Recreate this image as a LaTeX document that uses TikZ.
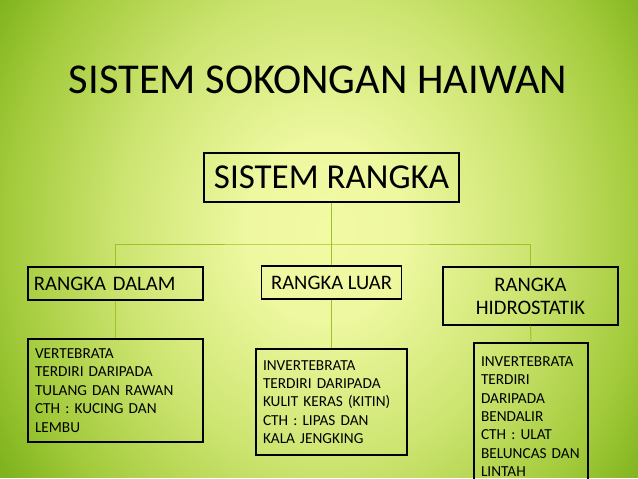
\documentclass[tikz,border=0pt]{standalone}
\usepackage{fontspec}
\setmainfont{Carlito}
\usetikzlibrary{calc}
\definecolor{bgin}{HTML}{F2FAA4}
\definecolor{bga}{HTML}{EEF8A0}
\definecolor{bgmid}{HTML}{CCE470}
\definecolor{bgb}{HTML}{A2CA3A}
\definecolor{bgc}{HTML}{80B41E}
\definecolor{bgout}{HTML}{7AAE18}
\definecolor{conncol}{HTML}{9CC42A}
\pgfdeclareradialshading{bgshade}{\pgfpoint{0bp}{0bp}}{color(0bp)=(bgin); color(5bp)=(bga); color(13bp)=(bgmid); color(20bp)=(bgb); color(24bp)=(bgc); color(50bp)=(bgout)}
\tikzset{
  headbox/.style={draw=black, line width=2.2pt, minimum width=255pt, minimum height=49pt, inner sep=0pt, font=\fontsize{35}{40}\selectfont},
  catbox/.style={draw=black, line width=1.2pt, inner sep=0pt, font=\fontsize{20.6}{24}\selectfont, align=center},
  infobox/.style={draw=black, line width=1.2pt, inner xsep=7pt, inner ysep=0pt, font=\fontsize{15.3}{18.4}\selectfont, align=left},
  conn/.style={draw=conncol, line width=1pt},
}
\begin{document}
\begin{tikzpicture}[x=1pt,y=-1pt]
\useasboundingbox (0,0) rectangle (638,479);
\begin{scope}
\clip (0,0) rectangle (638,479);
\shade[shading=bgshade] (-75,-220) rectangle (725,680);
\fill[white] (0,477.8) rectangle (638,479);
\end{scope}
\node[anchor=base, font=\fontsize{42.5}{48}\selectfont] (title) at (318,93) {SISTEM SOKONGAN HAIWAN};
\node[headbox] (sr) at (331.5,177.5) {SISTEM RANGKA};
\coordinate (j) at (331.5,244);
\node[catbox, minimum width=175pt, minimum height=33pt, text width=163pt, align=left] (dalam) at (115.5,283.5) {RANGKA DALAM};
\node[catbox, minimum width=140pt, minimum height=33pt] (luar) at (331.5,282.5) {RANGKA LUAR};
\node[catbox, minimum width=175pt, minimum height=58pt] (hidro) at (530.5,296) {RANGKA\\[-1pt]HIDROSTATIK};
\node[infobox, minimum width=175pt, minimum height=103pt, text width=161pt] (vert) at (115.5,390.5) {VERTEBRATA\\TERDIRI DARIPADA\\TULANG DAN RAWAN\\CTH : KUCING DAN\\LEMBU};
\node[infobox, minimum width=151pt, minimum height=106pt, text width=137pt] (invl) at (331.5,402) {INVERTEBRATA\\TERDIRI DARIPADA\\KULIT KERAS (KITIN)\\CTH : LIPAS DAN\\KALA JENGKING};
\node[infobox, minimum width=114pt, minimum height=147pt, text width=100pt] (invh) at (531,416.5) {INVERTEBRATA\\TERDIRI\\DARIPADA\\BENDALIR\\CTH : ULAT\\BELUNCAS DAN\\LINTAH};
\draw[conn] (sr.south) -- (j);
\draw[conn] (dalam.north) |- (j) -| (hidro.north);
\draw[conn] (j) -- (luar.north);
\draw[conn] (dalam.south) -- (vert.north);
\draw[conn] (luar.south) -- (invl.north);
\draw[conn] (hidro.south) -- (invh.north);
\end{tikzpicture}
\end{document}
